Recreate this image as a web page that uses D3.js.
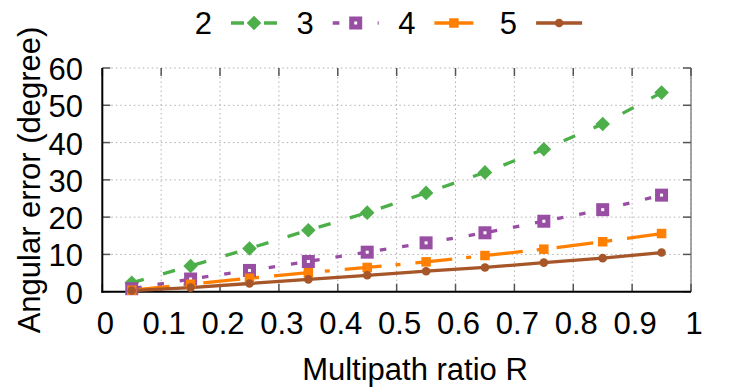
<!DOCTYPE html>
<html>
<head>
<meta charset="utf-8">
<script src="https://cdn.jsdelivr.net/npm/d3@7"></script>
<style>
  html, body { margin: 0; padding: 0; background: #fff; }
  svg { display: block; }
  text { font-family: "Liberation Sans", Arial, Helvetica, sans-serif; fill: #000; }
</style>
</head>
<body>
<svg id="chart" width="747" height="392"></svg>
<script>
// ---- data ----
const xValues = [0.05, 0.15, 0.25, 0.35, 0.45, 0.55, 0.65, 0.75, 0.85, 0.95];
const seriesNames = ["2", "3", "4", "5"];
const series2 = [2.4, 6.9, 11.6, 16.5, 21.2, 26.5, 32.0, 38.2, 45.0, 53.4];
const series3 = [0.8, 3.4, 5.7, 8.1, 10.6, 13.1, 15.8, 18.9, 22.0, 25.9];
const series4 = [0.4, 2.0, 3.6, 5.1, 6.5, 8.0, 9.7, 11.4, 13.4, 15.6];
const series5 = [0.3, 1.1, 2.2, 3.3, 4.4, 5.5, 6.5, 7.8, 9.0, 10.5];
const xTicks = [0, 0.1, 0.2, 0.3, 0.4, 0.5, 0.6, 0.7, 0.8, 0.9, 1];
const xTickLabels = ["0", "0.1", "0.2", "0.3", "0.4", "0.5", "0.6", "0.7", "0.8", "0.9", "1"];
const yTicks = [0, 10, 20, 30, 40, 50, 60];
const yTickLabels = ["0", "10", "20", "30", "40", "50", "60"];
const xTitle = "Multipath ratio R";
const yTitle = "Angular error (degree)";

// ---- styles ----
const styles = [
  { color: "#4daf4a", dash: "12.5,20", offset: 0, marker: "diamond" },
  { color: "#984ea3", dash: "6.5,16", offset: -3.6, marker: "opensquare" },
  { color: "#ff7f00", dash: "37,14,5,15", offset: -1, marker: "square" },
  { color: "#a65628", dash: null, offset: 0, marker: "circle" }
];
const allSeries = [series2, series3, series4, series5];

const svg = d3.select("#chart");
const L = 102.3, R = 691, T = 68, B = 291.7;
const x = d3.scaleLinear().domain([0, 1]).range([L, R]);
const y = d3.scaleLinear().domain([0, 60]).range([B, T]);

// grid
const grid = svg.append("g");
grid.selectAll("line.gx").data(xTicks.slice(1)).enter().append("line")
  .attr("x1", d => x(d)).attr("x2", d => x(d)).attr("y1", T).attr("y2", B)
  .attr("stroke", "#b0b0b0").attr("stroke-width", 1).attr("stroke-dasharray", "1.5,3");
grid.selectAll("line.gy").data(yTicks.slice(1)).enter().append("line")
  .attr("x1", L).attr("x2", R).attr("y1", d => y(d)).attr("y2", d => y(d))
  .attr("stroke", "#b0b0b0").attr("stroke-width", 1).attr("stroke-dasharray", "1.5,3");

// right border
svg.append("line").attr("x1", R).attr("x2", R).attr("y1", T).attr("y2", B)
  .attr("stroke", "#888").attr("stroke-width", 1.5);

// ticks (mirrored, inward)
const tk = svg.append("g").attr("stroke", "#555").attr("stroke-width", 1.5);
xTicks.forEach(d => {
  tk.append("line").attr("x1", x(d)).attr("x2", x(d)).attr("y1", B).attr("y2", B - 8);
  tk.append("line").attr("x1", x(d)).attr("x2", x(d)).attr("y1", T).attr("y2", T + 8);
});
yTicks.forEach(d => {
  tk.append("line").attr("x1", L).attr("x2", L + 8).attr("y1", y(d)).attr("y2", y(d));
  tk.append("line").attr("x1", R).attr("x2", R - 8).attr("y1", y(d)).attr("y2", y(d));
});

// axes lines
svg.append("line").attr("x1", L).attr("x2", L).attr("y1", T).attr("y2", B + 1)
  .attr("stroke", "#000").attr("stroke-width", 2);
svg.append("line").attr("x1", L - 1).attr("x2", R).attr("y1", B).attr("y2", B)
  .attr("stroke", "#000").attr("stroke-width", 2);

// tick labels
svg.selectAll("text.xt").data(xTicks).enter().append("text")
  .attr("x", d => x(d) + 3).attr("y", 334.3).attr("text-anchor", "middle")
  .attr("font-size", 31).text((d, i) => xTickLabels[i]);
svg.selectAll("text.yt").data(yTicks).enter().append("text")
  .attr("x", 83).attr("y", d => y(d) + 12).attr("text-anchor", "end")
  .attr("font-size", 31).text((d, i) => yTickLabels[i]);

// titles
svg.append("text").attr("x", 415).attr("y", 380).attr("text-anchor", "middle")
  .attr("font-size", 31).text(xTitle);
svg.append("text").attr("transform", "translate(40,180) rotate(-90)")
  .attr("text-anchor", "middle").attr("font-size", 31).text(yTitle);

// markers
function drawMarker(g, type, cx, cy, color) {
  if (type === "diamond") {
    const s = 7.3;
    g.append("path").attr("d", `M${cx},${cy - s}L${cx + s},${cy}L${cx},${cy + s}L${cx - s},${cy}Z`)
      .attr("fill", color);
  } else if (type === "opensquare") {
    const s = 8;
    g.append("rect").attr("x", cx - s / 2).attr("y", cy - s / 2).attr("width", s).attr("height", s)
      .attr("fill", "#fff").attr("stroke", color).attr("stroke-width", 5);
  } else if (type === "square") {
    const s = 9.5;
    g.append("rect").attr("x", cx - s / 2).attr("y", cy - s / 2).attr("width", s).attr("height", s)
      .attr("fill", color);
  } else {
    g.append("circle").attr("cx", cx).attr("cy", cy).attr("r", 4.3).attr("fill", color);
  }
}

// series lines
const line = d3.line().x(d => x(d[0])).y(d => y(d[1]));
allSeries.forEach((vals, si) => {
  const st = styles[si];
  const pts = xValues.map((xv, i) => [xv, vals[i]]);
  const p = svg.append("path").datum(pts).attr("d", line)
    .attr("fill", "none").attr("stroke", st.color).attr("stroke-width", 3.3)
    .attr("stroke-linejoin", "round");
  if (st.dash) p.attr("stroke-dasharray", st.dash).attr("stroke-dashoffset", st.offset);
});
allSeries.forEach((vals, si) => {
  const st = styles[si];
  const g = svg.append("g");
  xValues.forEach((xv, i) => drawMarker(g, st.marker, x(xv), y(vals[i]), st.color));
});

// legend
const legendLabelEnd = [212, 313.7, 415.4, 517.1];
const legendDash = ["13,20,13", "6.7,15.8", null, null];
seriesNames.forEach((name, i) => {
  const st = styles[i];
  const ex = legendLabelEnd[i];
  svg.append("text").attr("x", ex).attr("y", 34).attr("text-anchor", "end")
    .attr("font-size", 31).text(name);
  const x0 = ex + 19, x1 = ex + 65, ly = 23;
  const ln = svg.append("line").attr("x1", x0).attr("x2", x1).attr("y1", ly).attr("y2", ly)
    .attr("stroke", st.color).attr("stroke-width", 3.3);
  if (i === 2) { ln.attr("x1", ex + 19).attr("x2", ex + 58); }
  if (legendDash[i]) ln.attr("stroke-dasharray", legendDash[i]);
  drawMarker(svg, st.marker, (x0 + x1) / 2 - (i === 2 ? 3.5 : 0), ly, st.color);
});
</script>
</body>
</html>
